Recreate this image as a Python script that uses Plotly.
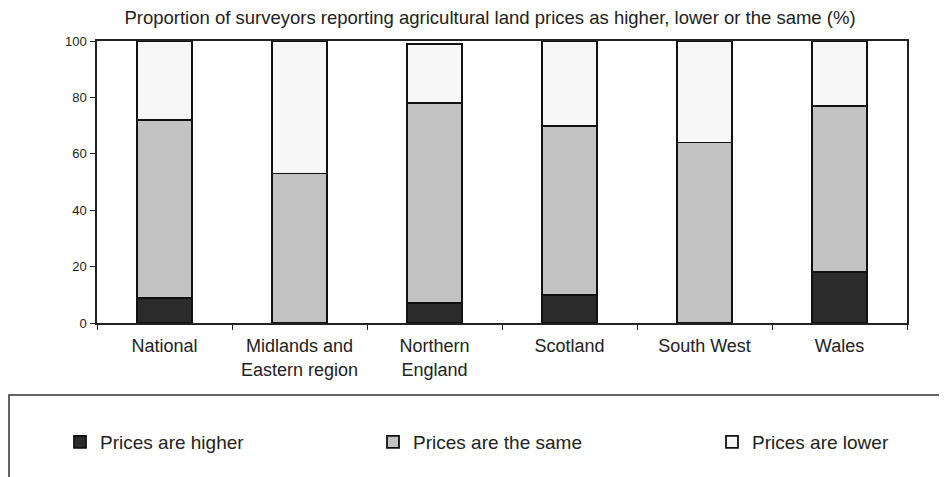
import plotly.graph_objects as go

categories = ["National", "Midlands and<br>Eastern region", "Northern<br>England",
              "Scotland", "South West", "Wales"]
higher = [9, 0, 7, 10, 0, 18]
same = [63, 53, 71, 60, 64, 59]
lower = [28, 47, 21, 30, 36, 23]
series_names = ["Prices are higher", "Prices are the same", "Prices are lower"]
y_ticks = [0, 20, 40, 60, 80, 100]

colors = ["#2b2b2b", "#c2c2c2", "#f7f7f7"]
font_family = "Liberation Sans, Arial, sans-serif"

fig = go.Figure()
for vals, name, col, lg in zip([higher, same, lower], series_names, colors,
                               ["legend", "legend2", "legend3"]):
    fig.add_trace(go.Bar(
        x=categories, y=vals, name=name,
        marker=dict(color=col, line=dict(color="#111111", width=1.8)),
        width=0.41, legend=lg,
    ))

# page body has an 8px margin, so figure coords = screenshot coords - 8
W, H = 939, 469
L, R, T, B = 89, 40, 33, 154
pw, ph = W - L - R, H - T - B

def px_x(px):
    return (px - L) / pw

def px_y(py):
    return (H - B - py) / ph

legend_common = dict(orientation="h", yanchor="middle", xanchor="left",
                     xref="container", yref="container", visible=True,
                     font=dict(size=19, color="#222222", family=font_family),
                     bgcolor="rgba(0,0,0,0)", itemwidth=30)

fig.update_layout(
    width=W, height=H,
    margin=dict(l=L, r=R, t=T, b=B, autoexpand=False),
    barmode="stack",
    showlegend=True,
    paper_bgcolor="white", plot_bgcolor="white",
    font=dict(family=font_family, color="#222222"),
    title=dict(text="Proportion of surveyors reporting agricultural land prices as higher, lower or the same (%)",
               x=482 / W, xanchor="center", xref="container",
               y=1 - 10 / H, yanchor="middle", yref="container",
               font=dict(size=18.5, color="#222222", family=font_family)),
    legend=dict(x=52 / W, y=1 - 434 / H, **legend_common),
    legend2=dict(x=365 / W, y=1 - 434 / H, **legend_common),
    legend3=dict(x=704 / W, y=1 - 434 / H, **legend_common),
    xaxis=dict(showline=True, linecolor="#222222", linewidth=1.5, mirror=True,
               ticks="outside", tickson="boundaries", ticklen=5, tickcolor="#222222",
               tickfont=dict(size=18, color="#222222"), ticklabelstandoff=6,
               showgrid=False),
    yaxis=dict(range=[0, 100], tickvals=y_ticks, showline=True, linecolor="#222222",
               linewidth=1.5, mirror=True, ticks="outside", ticklen=5,
               tickcolor="#222222", tickfont=dict(size=13, color="#222222"),
               showgrid=False, zeroline=False, ticklabelstandoff=1),
    shapes=[dict(type="rect", xref="paper", yref="paper",
                 x0=px_x(1), x1=px_x(960), y0=px_y(387), y1=px_y(490),
                 line=dict(color="#333333", width=1.5), fillcolor="rgba(0,0,0,0)",
                 layer="above")],
    bargap=0.59,
)

fig.write_html("out.html")
